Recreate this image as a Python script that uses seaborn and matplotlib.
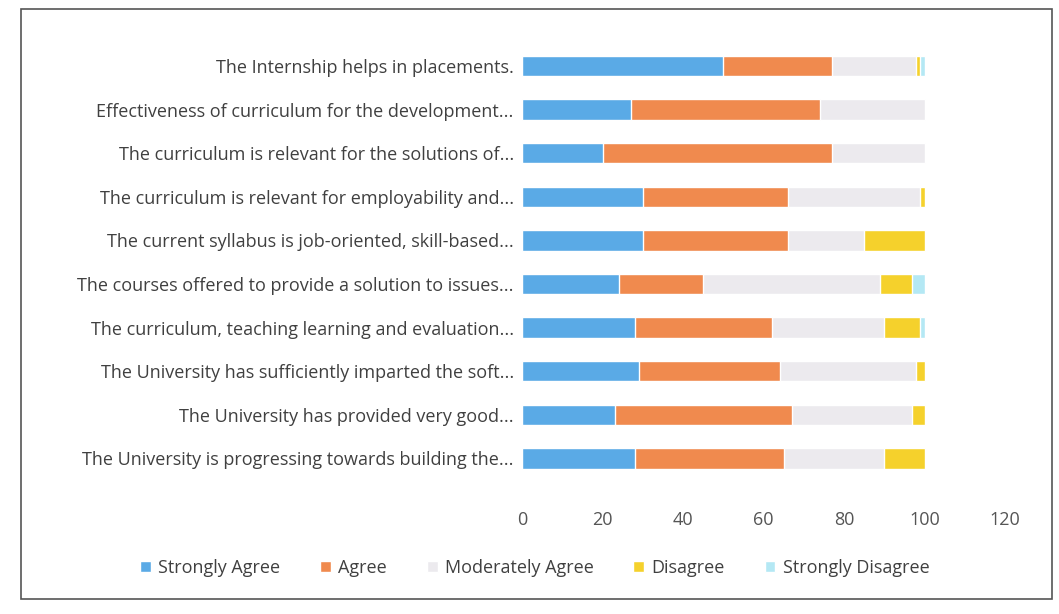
import numpy as np
import pandas as pd
import matplotlib.pyplot as plt
import seaborn as sns
from matplotlib.patches import Rectangle

statements = [
    "The Internship helps in placements.",
    "Effectiveness of curriculum for the development...",
    "The curriculum is relevant for the solutions of...",
    "The curriculum is relevant for employability and...",
    "The current syllabus is job-oriented, skill-based...",
    "The courses offered to provide a solution to issues...",
    "The curriculum, teaching learning and evaluation...",
    "The University has sufficiently imparted the soft...",
    "The University has provided very good...",
    "The University is progressing towards building the...",
]
strongly_agree = [50, 27, 20, 30, 30, 24, 28, 29, 23, 28]
agree = [27, 47, 57, 36, 36, 21, 34, 35, 44, 37]
moderately_agree = [21, 26, 23, 33, 19, 44, 28, 34, 30, 25]
disagree = [1, 0, 0, 1, 15, 8, 9, 2, 3, 10]
strongly_disagree = [1, 0, 0, 0, 0, 3, 1, 0, 0, 0]

series = ["Strongly Agree", "Agree", "Moderately Agree", "Disagree", "Strongly Disagree"]
colors = ["#5AAAE6", "#F08A4E", "#ECEAEE", "#F5D12C", "#B4E8F4"]

df = pd.DataFrame({
    "statement": statements,
    "Strongly Agree": strongly_agree,
    "Agree": agree,
    "Moderately Agree": moderately_agree,
    "Disagree": disagree,
    "Strongly Disagree": strongly_disagree,
})
cum = df[series].cumsum(axis=1)

sns.set_style("white")
plt.rcParams['font.family'] = ['Open Sans', 'DejaVu Sans']

fig = plt.figure(figsize=(10.59, 6.14), dpi=100)
ax = fig.add_axes([0.493, 0.218, 0.456, 0.71])

# stacked bars: draw cumulative totals from the outermost layer inward
for name, col in reversed(list(zip(series, colors))):
    sns.barplot(x=cum[name], y=df["statement"], color=col, width=0.47,
                orient="h", ax=ax, saturation=1, label=name)

ax.set_xlim(0, 120)
ax.set_xticks(range(0, 121, 20))
ax.set_xlabel("")
ax.set_ylabel("")
sns.despine(ax=ax, left=True, bottom=True)
ax.tick_params(axis="x", length=0, pad=22, labelsize=13, labelcolor="#555555")
ax.tick_params(axis="y", length=0, pad=6, labelsize=13, labelcolor="#404040")

handles, labels = ax.get_legend_handles_labels()
order = [labels.index(s) for s in series]
fig.legend([handles[i] for i in order], [labels[i] for i in order],
           loc="center", bbox_to_anchor=(0.505, 0.075), ncol=5, frameon=False,
           fontsize=13, labelcolor="#404040", handlelength=0.6, handleheight=0.6,
           handletextpad=0.4, columnspacing=2.2)
if ax.get_legend():
    ax.get_legend().remove()

fig.patches.append(Rectangle((0.02, 0.025), 0.973, 0.96, transform=fig.transFigure,
                             fill=False, edgecolor="#555555", linewidth=1.2))

fig.savefig("out.png", dpi=100)
